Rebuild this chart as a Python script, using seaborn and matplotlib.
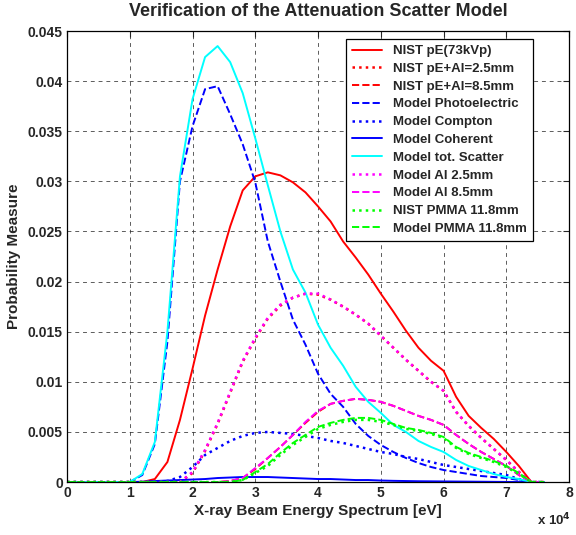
import matplotlib
matplotlib.use("Agg")
import matplotlib.pyplot as plt
import seaborn as sns
import numpy as np

# energy grid in units of 1e4 eV
energy = [0.0, 0.2, 0.4, 0.6, 0.8, 1.0, 1.2, 1.4, 1.6, 1.8, 2.0, 2.2, 2.4, 2.6, 2.8,
          3.0, 3.2, 3.4, 3.6, 3.8, 4.0, 4.2, 4.4, 4.6, 4.8, 5.0, 5.2, 5.4, 5.6, 5.8,
          6.0, 6.2, 6.4, 6.6, 6.8, 7.0, 7.2, 7.4, 7.6]

nist_pe = [0, 0, 0, 0, 0, 0, 0, 0.0003, 0.0020, 0.0062, 0.0113, 0.0166, 0.0212, 0.0255, 0.0291,
           0.0305, 0.0309, 0.0306, 0.0299, 0.0289, 0.0275, 0.0260, 0.0240, 0.0224, 0.0207, 0.0188,
           0.0170, 0.0151, 0.0134, 0.0121, 0.0111, 0.0085, 0.0066, 0.0054, 0.0043, 0.0030, 0.0016,
           0.0, 0.0]
nist_al25 = [0, 0, 0, 0, 0, 0, 0, 0, 0, 0, 0.0009, 0.0031, 0.0058, 0.0089, 0.0120,
             0.0143, 0.0163, 0.0176, 0.0184, 0.0188, 0.0187, 0.0182, 0.0175, 0.0167, 0.0158, 0.0146,
             0.0134, 0.0122, 0.0111, 0.0100, 0.0091, 0.0070, 0.0056, 0.0044, 0.0033, 0.0022, 0.0010,
             0.0, 0.0]
nist_al85 = [0, 0, 0, 0, 0, 0, 0, 0, 0, 0, 0, 0, 0, 0.0001, 0.0004,
             0.0013, 0.0024, 0.0035, 0.0047, 0.0059, 0.0070, 0.0078, 0.0081, 0.0083, 0.0082, 0.0080,
             0.0076, 0.0071, 0.0066, 0.0062, 0.0057, 0.0047, 0.0038, 0.0030, 0.0023, 0.0016, 0.0007,
             0.0, 0.0]
model_photo = [0, 0, 0, 0, 0, 0, 0.0007, 0.0038, 0.0140, 0.0300, 0.0355, 0.0392, 0.0395, 0.0367, 0.0337,
               0.0299, 0.0240, 0.0200, 0.0162, 0.0137, 0.0108, 0.0088, 0.0075, 0.0058, 0.0046, 0.0037,
               0.0030, 0.0024, 0.0019, 0.0015, 0.0012, 0.0010, 0.0008, 0.0006, 0.0005, 0.0004, 0.0002,
               0.0, 0.0]
model_compton = [0, 0, 0, 0, 0, 0, 0, 0, 0.0001, 0.0005, 0.0015, 0.0027, 0.0034, 0.0041, 0.0046,
                 0.0049, 0.0050, 0.0049, 0.0048, 0.0046, 0.0044, 0.0041, 0.0039, 0.0036, 0.0033, 0.0030,
                 0.0028, 0.0025, 0.0023, 0.0020, 0.0017, 0.0015, 0.0013, 0.0011, 0.0009, 0.0007, 0.0003,
                 0.0, 0.0]
model_coherent = [0, 0, 0, 0, 0, 0, 0.00003, 0.0001, 0.00015, 0.0002, 0.00025, 0.0003, 0.0004, 0.00045, 0.0005,
                  0.0005, 0.0005, 0.00045, 0.0004, 0.00035, 0.0003, 0.0003, 0.00025, 0.0002, 0.0002, 0.00015,
                  0.00012, 0.0001, 0.00008, 0.00007, 0.00006, 0.00005, 0.00004, 0.00003, 0.00002, 0.00001, 0.0,
                  0.0, 0.0]
model_scatter = [0, 0, 0, 0, 0, 0, 0.0008, 0.0040, 0.0150, 0.0305, 0.0382, 0.0424, 0.0435, 0.0419, 0.0388,
                 0.0343, 0.0296, 0.0250, 0.0212, 0.0189, 0.0157, 0.0134, 0.0116, 0.0095, 0.0080, 0.0069,
                 0.0057, 0.0050, 0.0041, 0.0035, 0.0030, 0.0022, 0.0016, 0.0012, 0.0008, 0.0005, 0.0003,
                 0.0, 0.0]
model_al25 = [0, 0, 0, 0, 0, 0, 0, 0, 0, 0, 0.0010, 0.0032, 0.0059, 0.0090, 0.0121,
              0.0144, 0.0164, 0.0177, 0.0184, 0.0188, 0.0188, 0.0182, 0.0175, 0.0167, 0.0158, 0.0146,
              0.0134, 0.0122, 0.0111, 0.0100, 0.0091, 0.0070, 0.0056, 0.0044, 0.0033, 0.0022, 0.0010,
              0.0, 0.0]
model_al85 = [0, 0, 0, 0, 0, 0, 0, 0, 0, 0, 0, 0, 0, 0.0001, 0.0004,
              0.0014, 0.0024, 0.0035, 0.0047, 0.0060, 0.0071, 0.0078, 0.0081, 0.0083, 0.0082, 0.0080,
              0.0076, 0.0071, 0.0066, 0.0062, 0.0057, 0.0047, 0.0038, 0.0030, 0.0023, 0.0016, 0.0007,
              0.0, 0.0]
nist_pmma = [0, 0, 0, 0, 0, 0, 0, 0, 0, 0, 0, 0, 0, 0, 0.0002,
             0.0009, 0.0016, 0.0027, 0.0037, 0.0045, 0.0053, 0.0057, 0.0060, 0.0062, 0.0062, 0.0060,
             0.0057, 0.0053, 0.0051, 0.0048, 0.0044, 0.0034, 0.0028, 0.0024, 0.0020, 0.0015, 0.0008,
             0.0, 0.0]
model_pmma = [0, 0, 0, 0, 0, 0, 0, 0, 0, 0, 0, 0, 0, 0, 0.0002,
              0.0010, 0.0018, 0.0029, 0.0039, 0.0047, 0.0055, 0.0059, 0.0062, 0.0064, 0.0064, 0.0062,
              0.0058, 0.0054, 0.0052, 0.0049, 0.0045, 0.0035, 0.0029, 0.0025, 0.0021, 0.0016, 0.0009,
              0.0, 0.0]

series = [
    ("NIST pE(73kVp)", nist_pe, "#ff0000", "-"),
    ("NIST pE+Al=2.5mm", nist_al25, "#ff0000", ":"),
    ("NIST pE+Al=8.5mm", nist_al85, "#ff0000", "--"),
    ("Model Photoelectric", model_photo, "#0000ff", "--"),
    ("Model Compton", model_compton, "#0000ff", ":"),
    ("Model Coherent", model_coherent, "#0000ff", "-"),
    ("Model tot. Scatter", model_scatter, "#00ffff", "-"),
    ("Model Al 2.5mm", model_al25, "#ff00ff", ":"),
    ("Model Al 8.5mm", model_al85, "#ff00ff", "--"),
    ("NIST PMMA 11.8mm", nist_pmma, "#00ff00", ":"),
    ("Model PMMA 11.8mm", model_pmma, "#00ff00", "--"),
]

sns.set_style("white")
plt.rcParams['font.family'] = ['Liberation Sans', 'DejaVu Sans']
plt.rcParams['font.weight'] = 'bold'

fig = plt.figure(figsize=(5.76, 5.35), dpi=100)
ax = fig.add_axes([0.1163, 0.099, 0.8717, 0.843])

energy_ev = np.array(energy) * 1e4
for label, vals, color, ls in series:
    lw = 1.8 if ls == ":" else 1.4
    sns.lineplot(x=energy_ev, y=vals, ax=ax, color=color, linestyle=ls,
                 linewidth=lw, label=label)

ax.set_xlim(0, 80000)
ax.set_ylim(0, 0.045)
ax.set_xticks(np.arange(0, 80001, 10000))
ax.set_xticklabels([str(i) for i in range(9)])
ax.set_yticks(np.arange(0, 0.0451, 0.005))
ax.set_yticklabels(["0", "0.005", "0.01", "0.015", "0.02", "0.025",
                    "0.03", "0.035", "0.04", "0.045"])
ax.tick_params(direction='in', length=4, labelsize=10, width=0.8,
               top=True, right=True, pad=3)
for lab in ax.get_xticklabels() + ax.get_yticklabels():
    lab.set_fontweight('bold')

ax.grid(True, color='#333333', linestyle=(0, (4, 4)), linewidth=0.7, alpha=0.8)
for s in ax.spines.values():
    s.set_color('black')
    s.set_linewidth(0.9)

ax.set_title("Verification of the Attenuation Scatter Model", fontsize=13,
             fontweight='bold', pad=11)
ax.set_xlabel("X-ray Beam Energy Spectrum [eV]", fontsize=11, fontweight='bold', labelpad=3)
ax.set_ylabel("Probability Measure", fontsize=11, fontweight='bold', labelpad=5)
fig.text(0.962, 0.018, r"x 10$^4$", fontsize=9.5, fontweight='bold', ha='center')

leg = ax.legend(loc='upper right', bbox_to_anchor=(0.941, 0.997), fontsize=9.5,
                frameon=True, fancybox=False, edgecolor='black', framealpha=1,
                handlelength=2.3, labelspacing=0.42, borderpad=0.45, handletextpad=0.8)
leg.get_frame().set_linewidth(0.9)
for t in leg.get_texts():
    t.set_fontweight('bold')

fig.savefig("out.png", dpi=100)
